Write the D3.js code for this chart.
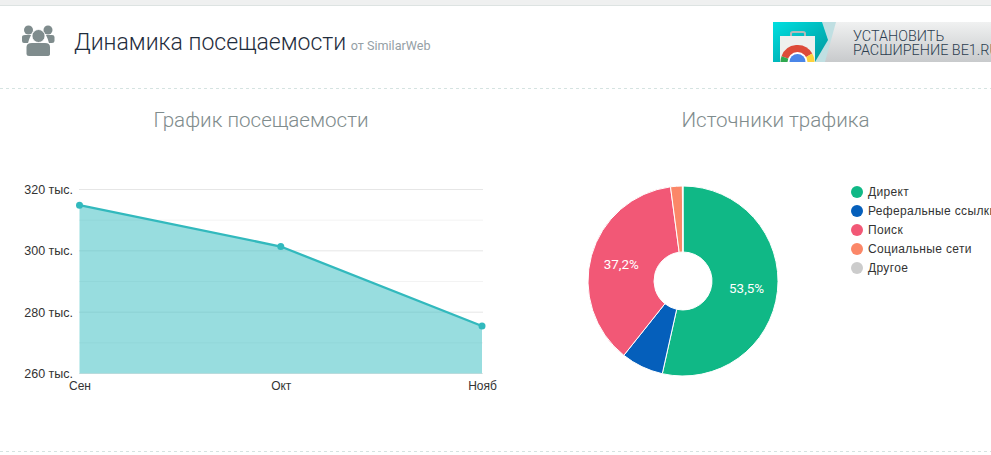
<!DOCTYPE html>
<html>
<head>
<meta charset="utf-8">
<title>Динамика посещаемости</title>
<script src="https://d3js.org/d3.v7.min.js"></script>
<style>
html, body { margin: 0; padding: 0; background: #fff; overflow: hidden; }
svg { display: block; }
text { font-family: Roboto, sans-serif; }
.axis text, .legend text { font-family: "Liberation Sans", Arial, sans-serif; font-size: 12px; fill: #333; }
.axis.yaxis text { font-size: 12.5px; }
.axis path, .axis line { stroke: none; }
</style>
</head>
<body>
<svg id="page" width="991" height="455"></svg>
<script>
var months = ["Сен", "Окт", "Нояб"];
var visits = [314.9, 301.4, 275.5];
var yTicks = [260, 280, 300, 320];
var yMinorTicks = [270, 290, 310];

var sources = ["Директ", "Реферальные ссылки", "Поиск", "Социальные сети", "Другое"];
var shares = [53.5, 7.2, 37.2, 2.0, 0.1];
var shareLabels = ["53,5%", "", "37,2%", "", ""];
var sourceColors = ["#10b886", "#055fbb", "#f25876", "#fb8768", "#cccccc"];

var svg = d3.select("#page");
var defs = svg.append("defs");

// page furniture
svg.append("rect").attr("width", 991).attr("height", 5).attr("fill", "#eff0f0");
svg.append("rect").attr("y", 5).attr("width", 991).attr("height", 1).attr("fill", "#dde3e2");
[88.5, 451.5].forEach(function(y) {
    svg.append("line").attr("x1", 0).attr("x2", 991).attr("y1", y).attr("y2", y)
        .attr("stroke", "#d5e3e1").attr("stroke-dasharray", "3,3");
});

// people icon
var icon = svg.append("g").attr("fill", "#7f8c8d");
icon.append("circle").attr("cx", 28.5).attr("cy", 30).attr("r", 4.5);
icon.append("circle").attr("cx", 48).attr("cy", 30).attr("r", 4.5);
icon.append("path").attr("d", "M22 37 Q22 35 25 35 L31 35 Q29 39 28 43 L24 43 Q22 43 22 41 Z");
icon.append("path").attr("d", "M54.5 37 Q54.5 35 52 35 L46 35 Q48 39 49 43 L52 43 Q54.5 43 54.5 41 Z");
icon.append("circle").attr("cx", 38.5).attr("cy", 36).attr("r", 6.5).attr("stroke", "#fff").attr("stroke-width", 0.8);
icon.append("path").attr("d", "M26.5 54 L26.5 47 Q26.5 43 32 43 L45 43 Q50 43 50 47 L50 54 Q50 56 47 56 L29 56 Q26.5 56 26.5 54 Z");

// heading
var title = svg.append("text").attr("x", 74).attr("y", 50)
    .attr("font-size", 23).attr("font-weight", 300).attr("fill", "#1f2d3d");
title.append("tspan").text("Динамика посещаемости");
title.append("tspan").attr("dx", 4.5).attr("font-size", 12.6).attr("font-weight", 400).attr("fill", "#95a0a6").text("от SimilarWeb");

svg.append("text").attr("x", 261).attr("y", 127).attr("text-anchor", "middle")
    .attr("font-size", 20.6).attr("font-weight", 300).attr("fill", "#7f8c8d").text("График посещаемости");
svg.append("text").attr("x", 775.5).attr("y", 127).attr("text-anchor", "middle")
    .attr("font-size", 20.6).attr("font-weight", 300).attr("fill", "#7f8c8d").text("Источники трафика");

// extension banner
var bannerGrad = defs.append("linearGradient").attr("id", "bannerGrad").attr("x1", 0).attr("y1", 0).attr("x2", 0).attr("y2", 1);
bannerGrad.append("stop").attr("offset", 0).attr("stop-color", "#f0f1f1");
bannerGrad.append("stop").attr("offset", 1).attr("stop-color", "#c8cacc");
var tealGrad = defs.append("linearGradient").attr("id", "tealGrad").attr("x1", 0).attr("y1", 0).attr("x2", 1).attr("y2", 1);
tealGrad.append("stop").attr("offset", 0).attr("stop-color", "#00dfe0");
tealGrad.append("stop").attr("offset", 1).attr("stop-color", "#00969c");
defs.append("clipPath").attr("id", "bannerClip").append("rect").attr("x", 773).attr("y", 22).attr("width", 218).attr("height", 40);

var banner = svg.append("g").attr("clip-path", "url(#bannerClip)");
banner.append("rect").attr("x", 773).attr("y", 22).attr("width", 218).attr("height", 40).attr("fill", "url(#bannerGrad)");
banner.append("path").attr("d", "M773 22 H836 L825 62 H773 Z").attr("fill", "#c0dfe2");
banner.append("path").attr("d", "M773 22 H822 L828 40 L815 62 H773 Z").attr("fill", "url(#tealGrad)");
banner.append("rect").attr("x", 780).attr("y", 36).attr("width", 35).attr("height", 30).attr("fill", "#eef0ee");
banner.append("path").attr("d", "M791 36 V33.5 Q791 32 793 32 H803 Q805 32 805 33.5 V36").attr("fill", "none").attr("stroke", "#b5b9b8").attr("stroke-width", 2);

var logo = banner.append("g").attr("transform", "translate(797.5,62)");
var logoArc = d3.arc().innerRadius(0).outerRadius(17);
var deg = Math.PI / 180;
[["#dd4b39", -70, 60], ["#fdd23c", 60, 180], ["#2fa84f", 180, 290]].forEach(function(s) {
    logo.append("path").attr("d", logoArc({ startAngle: s[1] * deg, endAngle: s[2] * deg })).attr("fill", s[0]);
});
logo.append("circle").attr("r", 10).attr("fill", "#fff");
logo.append("circle").attr("r", 8).attr("fill", "#4a86e8");

[["УСТАНОВИТЬ", 41], ["РАСШИРЕНИЕ BE1.RU", 55]].forEach(function(d) {
    banner.append("text").attr("x", 853).attr("y", d[1]).attr("font-size", 14.4).attr("font-weight", 300)
        .attr("fill", "#2c3e50").text(d[0]);
});

// line chart
var x = d3.scalePoint().domain(months).range([79.5, 482]);
var y = d3.scaleLinear().domain([260, 320]).range([373.5, 189.5]);

var chart = svg.append("g");
chart.selectAll("line.minor").data(yMinorTicks).enter().append("line").attr("class", "minor")
    .attr("x1", 79).attr("x2", 483).attr("y1", function(d) { return y(d); }).attr("y2", function(d) { return y(d); })
    .attr("stroke", "#f3f3f3");
chart.selectAll("line.major").data(yTicks).enter().append("line").attr("class", "major")
    .attr("x1", 79).attr("x2", 483).attr("y1", function(d) { return y(d); }).attr("y2", function(d) { return y(d); })
    .attr("stroke", "#e6e6e6");

var points = months.map(function(m, i) { return { month: m, value: visits[i] }; });
var area = d3.area().x(function(d) { return x(d.month); }).y0(y(260)).y1(function(d) { return y(d.value); });
var line = d3.line().x(function(d) { return x(d.month); }).y(function(d) { return y(d.value); });

chart.append("path").attr("d", area(points)).attr("fill", "#32bbc0").attr("fill-opacity", 0.5);
chart.append("path").attr("d", line(points)).attr("fill", "none").attr("stroke", "#32b9bd").attr("stroke-width", 2.3);
chart.selectAll("circle").data(points).enter().append("circle")
    .attr("cx", function(d) { return x(d.month); }).attr("cy", function(d) { return y(d.value); })
    .attr("r", 3.5).attr("fill", "#32b9bd");

svg.append("g").attr("class", "axis yaxis").attr("transform", "translate(73,0)")
    .call(d3.axisLeft(y).tickValues(yTicks).tickSize(0).tickPadding(0).tickFormat(function(d) { return d + " тыс."; }));
svg.append("g").attr("class", "axis").attr("transform", "translate(0,381)")
    .call(d3.axisBottom(x).tickSize(0).tickPadding(0));

// donut
var pie = d3.pie().sort(null).value(function(d) { return d.value; });
var arc = d3.arc().innerRadius(29).outerRadius(95);
var labelArc = d3.arc().innerRadius(64).outerRadius(64);
var slices = pie(shares.map(function(v, i) { return { value: v, label: shareLabels[i], color: sourceColors[i] }; }));
var donut = svg.append("g").attr("transform", "translate(683,281)");
donut.selectAll("path").data(slices).enter().append("path")
    .attr("d", arc).attr("fill", function(d) { return d.data.color; })
    .attr("stroke", "#fff").attr("stroke-width", 1);
donut.selectAll("text").data(slices).enter().append("text")
    .attr("transform", function(d) { return "translate(" + labelArc.centroid(d) + ")"; })
    .attr("text-anchor", "middle").attr("dy", "0.35em")
    .attr("font-size", 13.4).attr("font-family", "Liberation Sans, Arial, sans-serif").attr("font-weight", 400)
    .attr("fill", "#fff").text(function(d) { return d.data.label; });

// legend
var legendY = d3.scalePoint().domain(sources).range([192, 268]);
var legend = svg.append("g").attr("class", "legend").selectAll("g").data(sources).enter().append("g")
    .attr("transform", function(d) { return "translate(857," + legendY(d) + ")"; });
legend.append("circle").attr("r", 6).attr("fill", function(d, i) { return sourceColors[i]; });
legend.append("text").attr("x", 11).attr("dy", "0.35em").attr("letter-spacing", 0.35).text(function(d) { return d; });
</script>
</body>
</html>
